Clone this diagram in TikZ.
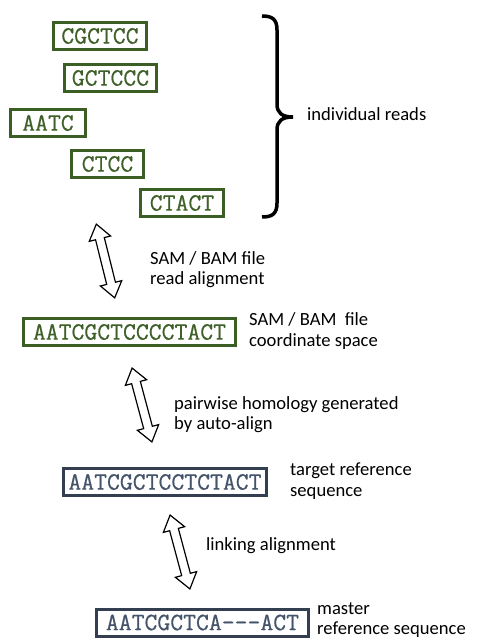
\documentclass[tikz,border=0pt]{standalone}
\usepackage{fontspec}
\setmainfont{Carlito}
\newfontfamily\seqfont[FakeBold=0.6]{Latin Modern Mono}
\definecolor{readgreen}{HTML}{3B5E24}
\definecolor{readtext}{HTML}{3F6129}
\definecolor{refblue}{HTML}{333F50}
\definecolor{reftext}{HTML}{44546A}
\tikzset{
  seqbox/.style={draw=readgreen, line width=3pt, fill=white, inner sep=0pt,
    minimum height=27pt, text=readtext, font=\seqfont\fontsize{25}{28}\selectfont},
  refbox/.style={seqbox, draw=refblue, text=reftext},
  lbl/.style={anchor=base west, inner sep=0pt, text=black,
    font=\fontsize{18.6}{21}\selectfont},
  dblarr/.style={draw=black, fill=white, line width=1.2pt, line join=miter}
}
\newcommand{\mydblarrow}[4]{% mid x, mid y, length, angle
  \begin{scope}[shift={(#1,#2)}, rotate=#4]
    \pgfmathsetmacro{\hl}{#3/2}
    \pgfmathsetmacro{\hb}{#3/2-15}
    \draw[dblarr] (-\hl,0) -- (-\hb,11) -- (-\hb,4.5) -- (\hb,4.5) -- (\hb,11) -- (\hl,0)
      -- (\hb,-11) -- (\hb,-4.5) -- (-\hb,-4.5) -- (-\hb,-11) -- cycle;
  \end{scope}}
\begin{document}
\begin{tikzpicture}[x=1pt,y=-1pt]
\useasboundingbox (0,0) rectangle (480,639);
% reads
\node[seqbox, minimum width=93pt] (r1) at (100,36) {CGCTCC};
\node[seqbox, minimum width=92pt] (r2) at (110.5,78) {GCTCCC};
\node[seqbox, minimum width=75pt] (r3) at (48,123) {AATC};
\node[seqbox, minimum width=72pt] (r4) at (107.5,164) {CTCC};
\node[seqbox, minimum width=83pt] (r5) at (182,203) {CTACT};
% brace
\draw[line width=3.5pt, line cap=butt] (262,16) .. controls (272,16) and (277,19) .. (277,30) -- (277,104)
  .. controls (277,113) and (282,117) .. (293,117)
  .. controls (282,117) and (277,121) .. (277,130) -- (277,203)
  .. controls (277,214) and (272,217) .. (262,217);
\node[lbl] (reads) at (307,121) {individual reads};
% arrow 1
\mydblarrow{105.5}{261}{76}{-76}
\node[lbl] (l1a) at (150,264) {SAM / BAM file};
\node[lbl] (l1b) at (150,284) {read alignment};
% coordinate space
\node[seqbox, minimum width=212pt] (coord) at (129.5,332) {AATCGCTCCCCTACT};
\node[lbl] (l2a) at (249,325) {SAM / BAM\ \ file};
\node[lbl] (l2b) at (249,346) {coordinate space};
% arrow 2
\mydblarrow{142}{405}{76.5}{-75}
\node[lbl] (l3a) at (174,409) {pairwise homology generated};
\node[lbl] (l3b) at (174,429) {by auto-align};
% target
\node[refbox, minimum width=203pt] (target) at (165,482) {AATCGCTCCTCTACT};
\node[lbl] (l4a) at (290,475) {target reference};
\node[lbl] (l4b) at (290,496) {sequence};
% arrow 3
\mydblarrow{180}{552}{76.5}{-75}
\node[lbl] (l5) at (206,550) {linking alignment};
% master
\node[refbox, minimum width=212pt] (master) at (202.5,622.5) {AATCGCTCA{-}{-}{-}ACT};
\node[lbl] (l6a) at (317,614) {master};
\node[lbl] (l6b) at (317,634) {reference sequence};
\end{tikzpicture}
\end{document}
